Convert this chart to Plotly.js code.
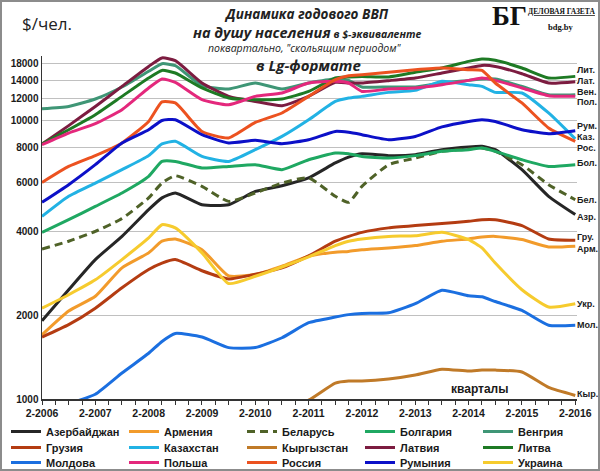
<!DOCTYPE html>
<html><head><meta charset="utf-8">
<script src="https://cdn.plot.ly/plotly-3.0.1.min.js"></script>
<style>
html,body{margin:0;padding:0;background:#fff}
#chart{width:600px;height:471px}
#frame{position:absolute;left:0;top:0;width:600px;height:471px;box-sizing:border-box;border:2px solid #8c8c8c;pointer-events:none}
</style>
</head><body>
<div id="chart"></div><div id="frame"></div>
<script>
// quarter index: 0 = Q2-2006 ... 40 = Q2-2016
const quarters = [0,2,4,6,8,9,10,12,14,16,18,20,22,23,24,26,28,30,32,33,34,36,38,40];
const yearLabels = ["2-2006","2-2007","2-2008","2-2009","2-2010","2-2011","2-2012","2-2013","2-2014","2-2015","2-2016"];
const yTickValues = [1000,2000,4000,6000,8000,10000,12000,14000,16000,17000];
const yTickLabels = ["1000","2000","4000","6000","8000","10000","12000","14000","18000",""];

const azerbaijan = [1910,2470,3170,3840,4790,5280,5500,4990,4990,5570,5840,6230,7050,7400,7610,7490,7550,7870,8050,8090,7870,6670,5350,4600];
const armenia    = [1700,2070,2340,2960,3350,3690,3760,3440,2770,2800,3000,3260,3370,3390,3440,3490,3560,3690,3760,3820,3840,3740,3520,3540];
const belarus    = [3460,3690,4000,4450,5280,5970,6340,5810,5130,5500,5970,6230,5350,5090,5810,6950,7340,7760,7910,7980,7760,6950,5890,5200];
const bulgaria   = [3970,4410,4920,5500,6310,7140,7140,6760,6850,6950,6670,7240,7650,7610,7440,7340,7490,7760,7870,7980,7760,7240,6850,6950];
const hungary    = [11040,11250,11970,13220,15050,16030,15760,13360,13000,13660,13000,13660,14120,13960,13220,13220,13220,13660,13960,14120,14120,13280,12400,12400];
const georgia    = [1670,1850,2120,2510,2920,3080,3170,2890,2700,2810,2960,3270,3690,3840,3970,4120,4200,4270,4350,4410,4410,4200,3760,3720];
const kazakhstan = [4530,5350,5970,6670,7490,8250,8430,7440,7140,7870,8780,10080,11730,12070,12230,12640,12850,13850,13470,13280,12640,12580,10660,8600];
const kyrgyzstan = [null,null,null,null,null,null,null,null,null,null,920,990,1140,1160,1160,1180,1220,1280,1260,1270,1270,1250,1100,1030];
const latvia     = [8250,9600,11250,13280,15670,16810,16430,13660,12230,11730,11320,12230,13730,13660,13660,13930,14240,14840,15470,15800,15670,14750,13660,13810];
const lithuania  = [8250,9280,10510,12230,14240,15160,14840,13110,12070,11900,11970,12740,14240,14360,14430,14360,14920,15470,16340,16670,16480,15470,14240,14430];
const moldova    = [880,960,1040,1240,1460,1610,1720,1670,1530,1530,1660,1880,1970,2010,2030,2040,2200,2460,2350,2330,2240,2080,1840,1840];
const poland     = [8200,9030,9760,10950,13110,14120,13730,11900,11410,12230,12580,13660,13850,13660,12740,13000,13110,13470,13960,14240,13960,13110,12300,12230];
const russia     = [6000,6850,7490,8320,9940,11680,11580,9150,8670,9860,10660,12230,14040,14510,14630,14920,15250,15470,15250,15160,13660,11580,9420,8430];
const romania    = [5090,5890,6950,8320,9280,10020,10080,8910,8320,8500,8270,8540,9150,9080,8910,8540,8780,9500,9940,10080,9940,9280,8980,9210];
const ukraine    = [2120,2370,2680,3170,3790,4230,4120,3350,2600,2760,2980,3240,3560,3690,3760,3840,3860,3970,3740,3490,3080,2470,2140,2200];

const seriesNames = ["Азербайджан","Армения","Беларусь","Болгария","Венгрия","Грузия","Казахстан","Кыргызстан","Латвия","Литва","Молдова","Польша","Россия","Румыния","Украина"];
const shortLabels = ["Азр.","Арм.","Бел.","Бол.","Вен.","Гру.","Каз.","Кыр.","Лат.","Лит.","Мол.","Пол.","Рос.","Рум.","Укр."];
const seriesData = [azerbaijan,armenia,belarus,bulgaria,hungary,georgia,kazakhstan,kyrgyzstan,latvia,lithuania,moldova,poland,russia,romania,ukraine];
const colors = ["#262626","#f29b2b","#4f6228","#1fa862","#3f9676","#b43c12","#22b2e4","#c07a28","#7c1c40","#1e7a24","#1b6fe0","#e4287c","#ec5220","#0c10c8","#f6cb2e"];
const labelShift = [-2,-3,0,2,3,3,2,1,1,6,0,-6,-7,5,0];

const W=600,H=471,L=42,T=56,B=72;
const plotRight=577;
const paperW=W-L, plotH=H-T-B;
const px = x => (x-L)/paperW;
const py = y => (H-B-y)/plotH;

const legendOf = i => i<5 ? 'legend' : (i<10 ? 'legend2' : 'legend3');

const traces = seriesData.map((d,i)=>({
  type:'scatter', mode:'lines', x:quarters, y:d, name:seriesNames[i],
  legend: legendOf(i),
  line:{color:colors[i], width:3, shape:'spline', smoothing:0.5, dash: i===2 ? '8px,5px' : 'solid'},
  connectgaps:false, hoverinfo:'skip'
}));

const tickvals=[], ticktext=[];
for(let q=0;q<=40;q++){ tickvals.push(q); ticktext.push(q%4===0 ? yearLabels[q/4] : ""); }

const lblFont = {family:'Liberation Sans, Arial, sans-serif', size:9, color:'#1a1a1a', weight:'bold'};
const annotations = seriesData.map((d,i)=>({
  x:quarters[quarters.length-1], y:Math.log10(d[d.length-1]), xref:'x', yref:'y',
  text:shortLabels[i], showarrow:false, xanchor:'left', yanchor:'middle', xshift:1, yshift:labelShift[i],
  font:lblFont, borderpad:0
}));

const tf = 'Open Sans, DejaVu Sans, sans-serif';
const sf = 'Liberation Serif, DejaVu Serif, serif';
annotations.push(
  {xref:'paper',yref:'paper',x:px(20),y:py(23),xanchor:'left',yanchor:'middle',showarrow:false,text:'$/чел.',font:{family:tf,size:17,color:'#222'}},
  {xref:'paper',yref:'paper',x:px(306),y:py(14),xanchor:'center',yanchor:'middle',showarrow:false,text:'<b><i>Динамика годового ВВП</i></b>',font:{family:tf,size:13.5,color:'#222'}},
  {xref:'paper',yref:'paper',x:px(307),y:py(32),xanchor:'center',yanchor:'middle',showarrow:false,text:'<b><i>на душу населения</i></b><span style="font-size:10.5px"><b><i> в $-эквиваленте</i></b></span>',font:{family:tf,size:14.5,color:'#222'}},
  {xref:'paper',yref:'paper',x:px(304),y:py(48),xanchor:'center',yanchor:'middle',showarrow:false,text:'<i>поквартально, "скольящим периодом"</i>',font:{family:tf,size:10.5,color:'#222'}},
  {xref:'paper',yref:'paper',x:px(308),y:py(65),xanchor:'center',yanchor:'middle',showarrow:false,text:'<b><i>в Lg-формате</i></b>',font:{family:tf,size:15,color:'#222'}},
  {xref:'paper',yref:'paper',x:px(509),y:py(16),xanchor:'center',yanchor:'middle',showarrow:false,text:'<b>БГ</b>',font:{family:sf,size:27,color:'#111'}},
  {xref:'paper',yref:'paper',x:px(561),y:py(11),xanchor:'center',yanchor:'middle',showarrow:false,text:'<b><u>ДЕЛОВАЯ ГАЗЕТА</u></b>',font:{family:sf,size:7.5,color:'#111'}},
  {xref:'paper',yref:'paper',x:px(561),y:py(27),xanchor:'center',yanchor:'middle',showarrow:false,text:'<b>bdg.by</b>',font:{family:sf,size:8.5,color:'#111'}},
  {xref:'paper',yref:'paper',x:px(480),y:py(389),xanchor:'center',yanchor:'middle',showarrow:false,text:'<b>кварталы</b>',font:{family:'Liberation Sans, Arial, sans-serif',size:12,color:'#1a1a1a'}}
);

const legFont = {family:'Liberation Sans, Arial, sans-serif', size:11, color:'#1a1a1a', weight:'bold'};
const mkLegend = yc => ({orientation:'h', x:px(6), xanchor:'left', y:py(yc), yanchor:'middle',
  entrywidth:73, entrywidthmode:'pixels', font:legFont, bgcolor:'rgba(0,0,0,0)', itemwidth:30, traceorder:'normal'});

const layout = {
  width:W, height:H, margin:{l:L,r:0,t:T,b:B,autoexpand:false},
  paper_bgcolor:'#fff', plot_bgcolor:'#fff', showlegend:true,
  legend:mkLegend(431.5), legend2:mkLegend(447.5), legend3:mkLegend(462.5),
  xaxis:{domain:[0,(plotRight-L)/paperW], range:[0,40.13], tickmode:'array', tickvals:tickvals, ticktext:ticktext, ticks:'outside', ticklen:4, tickwidth:1, tickcolor:'#333',
    showline:true, linecolor:'#333', linewidth:1.5, showgrid:false, zeroline:false,
    tickfont:{family:'Liberation Sans, Arial, sans-serif', size:10.5, color:'#1a1a1a', weight:'bold'}},
  yaxis:{type:'log', range:[3, 3+plotH/278.3], tickmode:'array', tickvals:yTickValues, ticktext:yTickLabels, ticks:'',
    showline:true, linecolor:'#333', linewidth:1.5, showgrid:true, gridcolor:'#c0c0c0', gridwidth:1, zeroline:false,
    tickfont:{family:'Liberation Sans, Arial, sans-serif', size:10, color:'#1a1a1a', weight:'bold'}},
  annotations:annotations
};
Plotly.newPlot('chart', traces, layout, {staticPlot:true, displayModeBar:false});
</script>
</body></html>
